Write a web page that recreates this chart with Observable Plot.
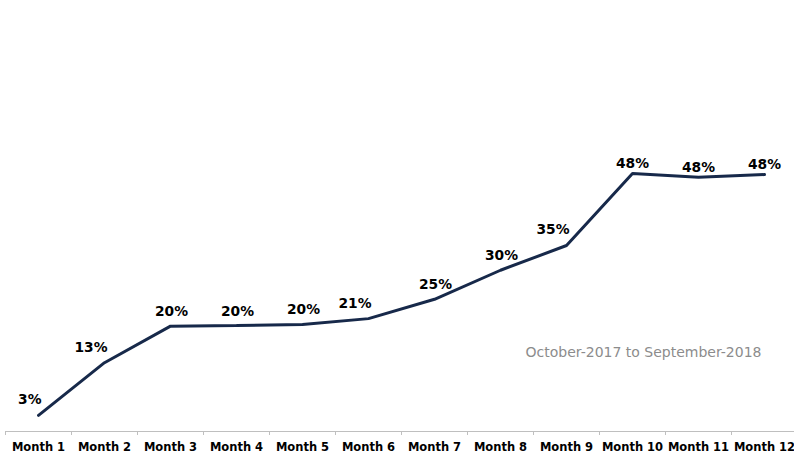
<!DOCTYPE html>
<html>
<head>
<meta charset="utf-8">
<script src="https://cdn.jsdelivr.net/npm/d3@7"></script>
<script src="https://cdn.jsdelivr.net/npm/@observablehq/plot@0.6"></script>
<style>
  html, body { margin: 0; padding: 0; background: #fff; }
  #chart { width: 794px; height: 461px; overflow: hidden; }
</style>
</head>
<body>
<div id="chart"></div>
<script>
const months = ["Month 1","Month 2","Month 3","Month 4","Month 5","Month 6","Month 7","Month 8","Month 9","Month 10","Month 11","Month 12"];
const values = [3.0, 12.8, 19.6, 19.7, 19.9, 21.0, 24.6, 30.0, 34.6, 48.0, 47.3, 47.8];
const valueLabels = ["3%","13%","20%","20%","20%","21%","25%","30%","35%","48%","48%","48%"];
const note = "October-2017 to September-2018";

const data = months.map((m, i) => ({idx: i + 1, month: m, value: values[i], label: valueLabels[i]}));
// label placement groups (styling only)
const leftPlaced = new Set(["Month 1","Month 2","Month 6","Month 9"]);
const topPlaced = new Set(["Month 10","Month 11","Month 12"]);
const boundaries = d3.range(0.5, months.length + 1, 1);

const navy = "#17294a";
const labelFont = "'DejaVu Sans', Verdana, sans-serif";
const labelStyle = {fontSize: 13.8, fontWeight: "bold", fill: "#000", lineAnchor: "middle"};

const chart = Plot.plot({
  width: 794,
  height: 461,
  marginLeft: 5,
  marginRight: -3,
  marginTop: 108.5,
  marginBottom: 30,
  style: {fontFamily: labelFont, background: "#fff", overflow: "visible"},
  x: {domain: [0.5, months.length + 0.5], axis: null},
  y: {domain: [0, 60], axis: null},
  marks: [
    Plot.ruleY([0], {stroke: "#bfbfbf", strokeWidth: 1}),
    Plot.axisX({ticks: boundaries, tickSize: 4, tickFormat: () => "", stroke: "#bfbfbf", label: null}),
    Plot.axisX({
      ticks: data.map(d => d.idx),
      tickSize: 0,
      tickPadding: 11,
      tickFormat: i => months[i - 1],
      fontFamily: labelFont,
      fontSize: 11.5,
      fontWeight: "bold",
      fill: "#000",
      label: null
    }),
    Plot.line(data, {x: "idx", y: "value", stroke: navy, strokeWidth: 3, strokeLinejoin: "miter"}),
    Plot.text(data.filter(d => !leftPlaced.has(d.month) && !topPlaced.has(d.month)), {
      x: "idx", y: "value", text: "label", dy: -14.5, dx: 1, ...labelStyle
    }),
    Plot.text(data.filter(d => leftPlaced.has(d.month)), {
      x: "idx", y: "value", text: "label", dy: -15.5, dx: 3, textAnchor: "end", ...labelStyle
    }),
    Plot.text(data.filter(d => topPlaced.has(d.month)), {
      x: "idx", y: "value", text: "label", dy: -9.5, dx: 0, ...labelStyle
    }),
    Plot.text([note], {
      frameAnchor: "bottom-right", dx: -36, dy: -79,
      lineAnchor: "middle", textAnchor: "end",
      fontSize: 14, fill: "#8c8c8c"
    })
  ]
});
document.getElementById("chart").append(chart);
</script>
</body>
</html>
